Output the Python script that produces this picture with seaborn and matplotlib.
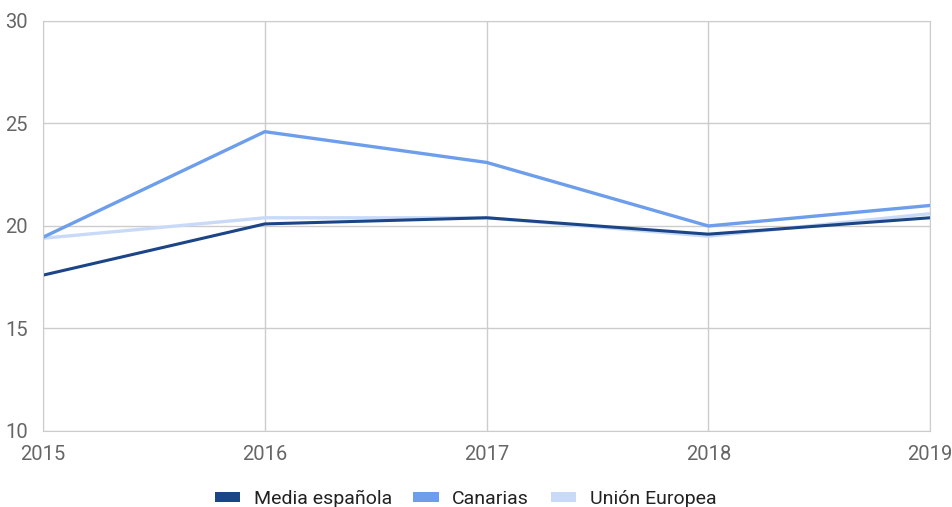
import pandas as pd
import matplotlib
matplotlib.use('Agg')
import matplotlib.pyplot as plt
from matplotlib.patches import Patch
import seaborn as sns

years = [2015, 2016, 2017, 2018, 2019]
media_espanola = [17.6, 20.1, 20.4, 19.6, 20.4]
canarias = [19.45, 24.6, 23.1, 20.0, 21.0]
union_europea = [19.4, 20.4, 20.4, 19.5, 20.6]

series = ['Media española', 'Canarias', 'Unión Europea']
colors = {'Media española': '#1c4587', 'Canarias': '#6d9eeb', 'Unión Europea': '#c9daf8'}

df = pd.DataFrame({
    'year': years * 3,
    'value': media_espanola + canarias + union_europea,
    'serie': [series[0]] * 5 + [series[1]] * 5 + [series[2]] * 5,
})

sns.set_style('white')
plt.rcParams['font.family'] = ['Roboto', 'DejaVu Sans']

fig = plt.figure(figsize=(9.52, 5.07), dpi=100)
ax = fig.add_axes([0.0452, 0.150, 0.9318, 0.8086])

# draw order: UE underneath, then Media, then Canarias on top
for name, lw in [('Unión Europea', 2.4), ('Media española', 2.2), ('Canarias', 2.4)]:
    sns.lineplot(data=df[df['serie'] == name], x='year', y='value', color=colors[name],
                 linewidth=lw, ax=ax, legend=False)

ax.set_xlim(2015, 2019)
ax.set_ylim(10, 30)
ax.set_xticks(years)
ax.set_yticks([10, 15, 20, 25, 30])
ax.grid(True, color='#cccccc', linewidth=1)
ax.set_axisbelow(True)
for s in ax.spines.values():
    s.set_color('#cccccc')
ax.set_xlabel('')
ax.set_ylabel('')
ax.tick_params(axis='both', colors='#666666', labelsize=14.5, length=0)
ax.tick_params(axis='x', pad=10)
ax.tick_params(axis='y', pad=11)

handles = [Patch(facecolor=colors[n], edgecolor='none') for n in series]
fig.legend(handles, series, loc='center', bbox_to_anchor=(0.489, 0.016), ncol=3, frameon=False,
           fontsize=14, handlelength=1.3, handleheight=0.45, columnspacing=1.1, handletextpad=0.7,
           labelcolor='#222222')

fig.savefig('out.png', dpi=100)
